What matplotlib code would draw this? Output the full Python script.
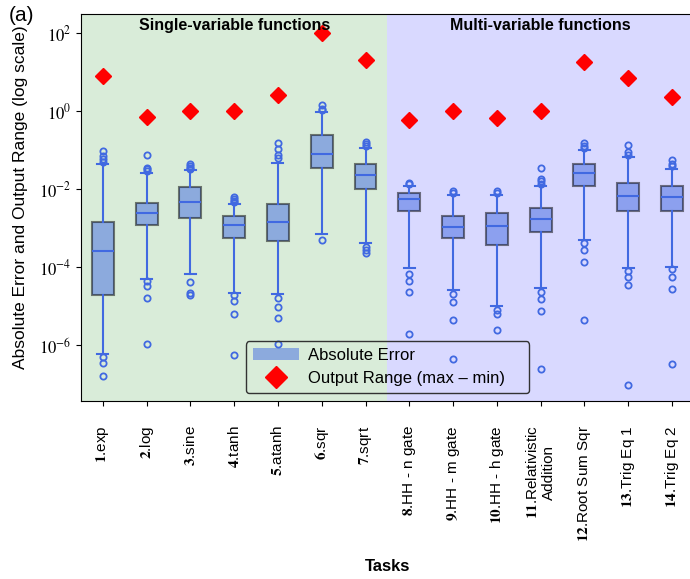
import matplotlib
matplotlib.use("Agg")
import matplotlib.pyplot as plt
from matplotlib.patches import Patch
from matplotlib.lines import Line2D
from matplotlib.ticker import NullLocator

plt.rcParams["font.family"] = "Liberation Sans"
plt.rcParams["mathtext.fontset"] = "stix"

# task names (number shown in bold)
task_nums = ["1", "2", "3", "4", "5", "6", "7", "8", "9", "10", "11", "12", "13", "14"]
task_names = ["exp", "log", "sine", "tanh", "atanh", "sqr", "sqrt",
              "HH - n gate", "HH - m gate", "HH - h gate", "Relativistic\nAddition",
              "Root Sum Sqr", "Trig Eq 1", "Trig Eq 2"]

# absolute error box stats
q1 = [2.0e-5, 1.2e-3, 1.8e-3, 5.5e-4, 4.6e-4, 0.034, 1.0e-2,
      2.8e-3, 5.5e-4, 3.8e-4, 7.8e-4, 1.2e-2, 2.7e-3, 2.75e-3]
med = [2.6e-4, 2.5e-3, 4.8e-3, 1.2e-3, 1.4e-3, 0.079, 2.3e-2,
       5.5e-3, 1.07e-3, 1.15e-3, 1.7e-3, 2.6e-2, 6.6e-3, 6.2e-3]
q3 = [1.45e-3, 4.5e-3, 1.1e-2, 2.1e-3, 4.1e-3, 0.245, 4.3e-2,
      7.9e-3, 2.0e-3, 2.4e-3, 3.2e-3, 4.3e-2, 1.45e-2, 1.17e-2]
whis_lo = [6.0e-7, 5.0e-5, 6.8e-5, 2.2e-5, 2.1e-5, 6.9e-4, 4.1e-4,
           9.5e-5, 2.6e-5, 1.05e-5, 2.9e-5, 5.1e-4, 9.5e-5, 1.02e-4]
whis_hi = [4.3e-2, 2.6e-2, 3.0e-2, 4.1e-3, 4.6e-2, 0.93, 0.115,
           1.23e-2, 7.2e-3, 7.2e-3, 1.17e-2, 0.100, 6.8e-2, 3.3e-2]
outliers = [
    [9.5e-2, 7.2e-2, 6.0e-2, 4.8e-2, 5.1e-7, 3.5e-7, 1.7e-7],
    [7.4e-2, 3.4e-2, 3.2e-2, 2.9e-2, 4.4e-5, 3.3e-5, 1.6e-5, 1.07e-6],
    [4.3e-2, 3.9e-2, 3.5e-2, 3.2e-2, 4.1e-5, 2.2e-5, 2.0e-5],
    [6.2e-3, 5.5e-3, 5.0e-3, 4.6e-3, 1.9e-5, 1.35e-5, 6.3e-6, 5.6e-7],
    [0.15, 0.105, 7.4e-2, 6.2e-2, 1.6e-5, 9.5e-6, 5.0e-6, 1.1e-6],
    [1.05, 1.15, 1.38, 4.9e-4],
    [0.126, 0.141, 0.158, 3.3e-4, 2.75e-4, 2.35e-4],
    [1.45e-2, 1.32e-2, 6.9e-5, 4.4e-5, 2.3e-5, 2.0e-6],
    [8.9e-3, 8.0e-3, 2.1e-5, 1.3e-5, 4.5e-6, 4.4e-7],
    [8.9e-3, 8.0e-3, 8.3e-6, 6.2e-6, 2.5e-6],
    [3.4e-2, 1.78e-2, 1.58e-2, 1.35e-2, 2.3e-5, 1.5e-5, 7.6e-6, 2.5e-7],
    [0.112, 0.126, 0.151, 4.1e-4, 2.75e-4, 1.35e-4, 4.5e-6],
    [7.6e-2, 8.9e-2, 0.135, 8.1e-5, 5.6e-5, 3.5e-5, 1.0e-7],
    [3.8e-2, 4.4e-2, 5.5e-2, 9.1e-5, 5.6e-5, 2.75e-5, 3.4e-7],
]

# output range (max - min)
out_range = [7.6, 0.7, 1.0, 1.0, 2.6, 100, 19.5, 0.58, 1.0, 0.65, 1.0, 17.6, 7.0, 2.3]

ytick_vals = [1e-6, 1e-4, 1e-2, 1, 1e2]
ytick_labels = [r"$10^{-6}$", r"$10^{-4}$", r"$10^{-2}$", r"$10^{0}$", r"$10^{2}$"]

n = len(task_names)
pos = list(range(1, n + 1))

stats = []
for i in range(n):
    stats.append(dict(q1=q1[i], med=med[i], q3=q3[i], whislo=whis_lo[i],
                      whishi=whis_hi[i], fliers=outliers[i]))

fig = plt.figure(figsize=(6.9, 5.79), dpi=100)
ax = fig.add_axes([81 / 690, 1 - 401 / 579, 612.8 / 690, (401 - 14.3) / 579])

ax.axvspan(0.5, 7.5, color="green", alpha=0.15, lw=0)
ax.axvspan(7.5, 14.5, color="blue", alpha=0.15, lw=0)

ax.bxp(stats, positions=pos, widths=0.5, patch_artist=True,
       boxprops=dict(facecolor="royalblue", edgecolor="black", alpha=0.5, linewidth=1.5),
       medianprops=dict(color="royalblue", linewidth=1.5),
       whiskerprops=dict(color="royalblue", linewidth=1.5),
       capprops=dict(color="royalblue", linewidth=1.5),
       flierprops=dict(marker="o", markerfacecolor="none", markeredgecolor="royalblue",
                       markersize=4.5, markeredgewidth=1.3))

ax.plot(pos, out_range, "D", color="red", markersize=8, linestyle="none")

ax.set_yscale("log")
ax.set_ylim(10 ** -7.42, 10 ** 2.47)
ax.set_xlim(0.5, 14.5)
ax.set_yticks(ytick_vals)
ax.set_yticklabels(ytick_labels)
ax.yaxis.set_minor_locator(NullLocator())
ax.tick_params(axis="y", labelsize=12)

labels = [r"$\mathbf{%s}$.%s" % (num, name) for num, name in zip(task_nums, task_names)]
ax.set_xticks(pos)
ax.set_xticklabels(labels, rotation=90, fontsize=11)
ax.tick_params(axis="x", pad=14)

ax.text(4, 0.99, "Single-variable functions", transform=ax.get_xaxis_transform(),
        ha="center", va="top", fontsize=11.5, fontweight="bold")
ax.text(11, 0.99, "Multi-variable functions", transform=ax.get_xaxis_transform(),
        ha="center", va="top", fontsize=11.5, fontweight="bold")

ax.set_xlabel("Tasks", fontsize=12, fontweight="bold", labelpad=12)
ax.set_ylabel("Absolute Error and Output Range (log scale)", fontsize=12.5)
ax.yaxis.set_label_coords(-0.086, 0.5275)
fig.text(0.012, 0.99, "(a)", fontsize=15, va="top")

handles = [Patch(facecolor="royalblue", alpha=0.5, edgecolor="none"),
           Line2D([], [], marker="D", color="red", linestyle="none", markersize=11)]
ax.legend(handles, ["Absolute Error", "Output Range (max \u2013 min)"],
          loc="lower left", bbox_to_anchor=(0.269, 0.0207, 0.462, 0.1), mode="expand",
          borderaxespad=0, fontsize=12, facecolor="none", edgecolor="0.2",
          framealpha=1, handlelength=2.8, handletextpad=0.5, borderpad=0.4)

fig.savefig("out.png", dpi=100)
